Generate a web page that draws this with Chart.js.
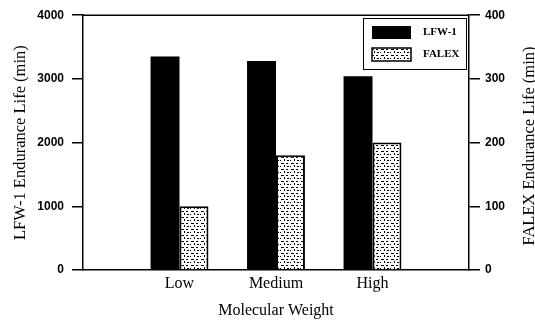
<!DOCTYPE html>
<html>
<head>
<meta charset="utf-8">
<script src="https://cdn.jsdelivr.net/npm/chart.js@4/dist/chart.umd.min.js"></script>
<style>
  html, body { margin: 0; padding: 0; background: #fff; }
  #wrap { width: 535px; height: 320px; }
</style>
</head>
<body>
<div id="wrap"><canvas id="myChart" width="535" height="320"></canvas></div>
<script>
// data
const categories = ["Low", "Medium", "High"];
const lfwValues = [3350, 3280, 3040];     // left axis, min
const falexValues = [100, 180, 200];      // right axis, min
const leftTicks = [0, 1000, 2000, 3000, 4000];
const rightTicks = [0, 100, 200, 300, 400];
const seriesNames = ["LFW-1", "FALEX"];

// empty slots on each side so the groups sit at 1/4, 2/4, 3/4 of the axis
const labels = [""].concat(categories, [""]);
const lfwData = [null].concat(lfwValues, [null]);
const falexData = [null].concat(falexValues, [null]);

const canvas = document.getElementById("myChart");
const ctx = canvas.getContext("2d");

// speckled fill like the scanned FALEX bars
function speckle() {
  const c = document.createElement("canvas");
  c.width = 10; c.height = 6;
  const p = c.getContext("2d");
  p.fillStyle = "#fff";
  p.fillRect(0, 0, 10, 6);
  p.fillStyle = "#000";
  p.fillRect(1, 1, 3, 1);
  p.fillRect(6, 1, 2, 1);
  p.fillRect(0, 4, 1, 1);
  p.fillRect(4, 3, 1, 2);
  p.fillRect(7, 4, 2, 1);
  return ctx.createPattern(c, "repeat");
}
const falexFill = speckle();

const serif = "'Liberation Serif', 'Times New Roman', serif";
const sans = "'Liberation Sans', Arial, sans-serif";

// top frame line, right axis title, boxed legend
const extras = {
  id: "extras",
  afterDraw(chart) {
    const c = chart.ctx;
    const a = chart.chartArea;
    c.save();
    c.strokeStyle = "#000";
    c.lineWidth = 1.5;
    c.beginPath();
    c.moveTo(a.left, a.top);
    c.lineTo(a.right, a.top);
    c.stroke();

    // right title reads bottom to top like the left one
    c.fillStyle = "#000";
    c.font = "16.5px " + serif;
    c.textAlign = "center";
    c.textBaseline = "middle";
    c.translate(530, 146);
    c.rotate(-Math.PI / 2);
    c.fillText("FALEX Endurance Life (min)", 0, 0);
    c.restore();

    // legend
    c.save();
    c.strokeStyle = "#000";
    c.lineWidth = 1;
    c.strokeRect(363.5, 18.5, 103, 51);
    const ds = chart.data.datasets;
    const rows = [26, 48];
    c.font = "bold 11px " + serif;
    c.textBaseline = "middle";
    c.textAlign = "left";
    for (let i = 0; i < ds.length; i++) {
      const y = rows[i];
      c.fillStyle = ds[i].backgroundColor;
      c.fillRect(372, y, 39, 13);
      if (ds[i].borderWidth) {
        c.lineWidth = 1.5;
        c.strokeRect(372, y, 39, 13);
      }
      c.fillStyle = "#000";
      c.fillText(ds[i].label, 423, y + 6.5);
    }
    c.restore();
  }
};

new Chart(ctx, {
  type: "bar",
  data: {
    labels: labels,
    datasets: [{
      label: seriesNames[0],
      data: lfwData,
      backgroundColor: "#000",
      borderWidth: 0,
      yAxisID: "y"
    }, {
      label: seriesNames[1],
      data: falexData,
      backgroundColor: falexFill,
      borderColor: "#000",
      borderWidth: 2,
      yAxisID: "y1"
    }]
  },
  options: {
    responsive: false,
    animation: false,
    layout: { padding: { top: 15, left: 0, right: 0, bottom: 0 } },
    datasets: { bar: { barPercentage: 1, categoryPercentage: 0.6 } },
    plugins: {
      legend: { display: false },
      tooltip: { enabled: false }
    },
    scales: {
      x: {
        offset: false,
        grid: { display: false, drawTicks: false, tickLength: 0 },
        border: { display: true, color: "#000", width: 1.5 },
        ticks: { color: "#000", font: { family: serif, size: 16 }, padding: 4, maxRotation: 0, autoSkip: false },
        title: { display: true, text: "Molecular Weight", color: "#000", font: { family: serif, size: 16 }, padding: { top: 3, bottom: 0 } },
        afterFit(scale) { scale.height = 50; }
      },
      y: {
        position: "left",
        min: 0, max: 4000,
        afterBuildTicks(scale) { scale.ticks = leftTicks.map(v => ({ value: v })); },
        grid: { drawOnChartArea: false, drawTicks: true, tickLength: 11, color: "#000", lineWidth: 1.5 },
        border: { display: true, color: "#000", width: 1.5 },
        ticks: { color: "#000", font: { family: sans, size: 12, weight: "bold" }, padding: 8, callback: v => String(v) },
        title: { display: true, text: "LFW-1 Endurance Life (min)", color: "#000", font: { family: serif, size: 16.5 }, padding: { top: 11, bottom: 0 } },
        afterFit(scale) { scale.width = 83; }
      },
      y1: {
        position: "right",
        min: 0, max: 400,
        afterBuildTicks(scale) { scale.ticks = rightTicks.map(v => ({ value: v })); },
        grid: { drawOnChartArea: false, drawTicks: true, tickLength: 11, color: "#000", lineWidth: 1.5 },
        border: { display: true, color: "#000", width: 1.5 },
        ticks: { color: "#000", font: { family: sans, size: 12, weight: "bold" }, padding: 5, callback: v => String(v) },
        afterFit(scale) { scale.width = 66; }
      }
    }
  },
  plugins: [extras]
});
</script>
</body>
</html>
